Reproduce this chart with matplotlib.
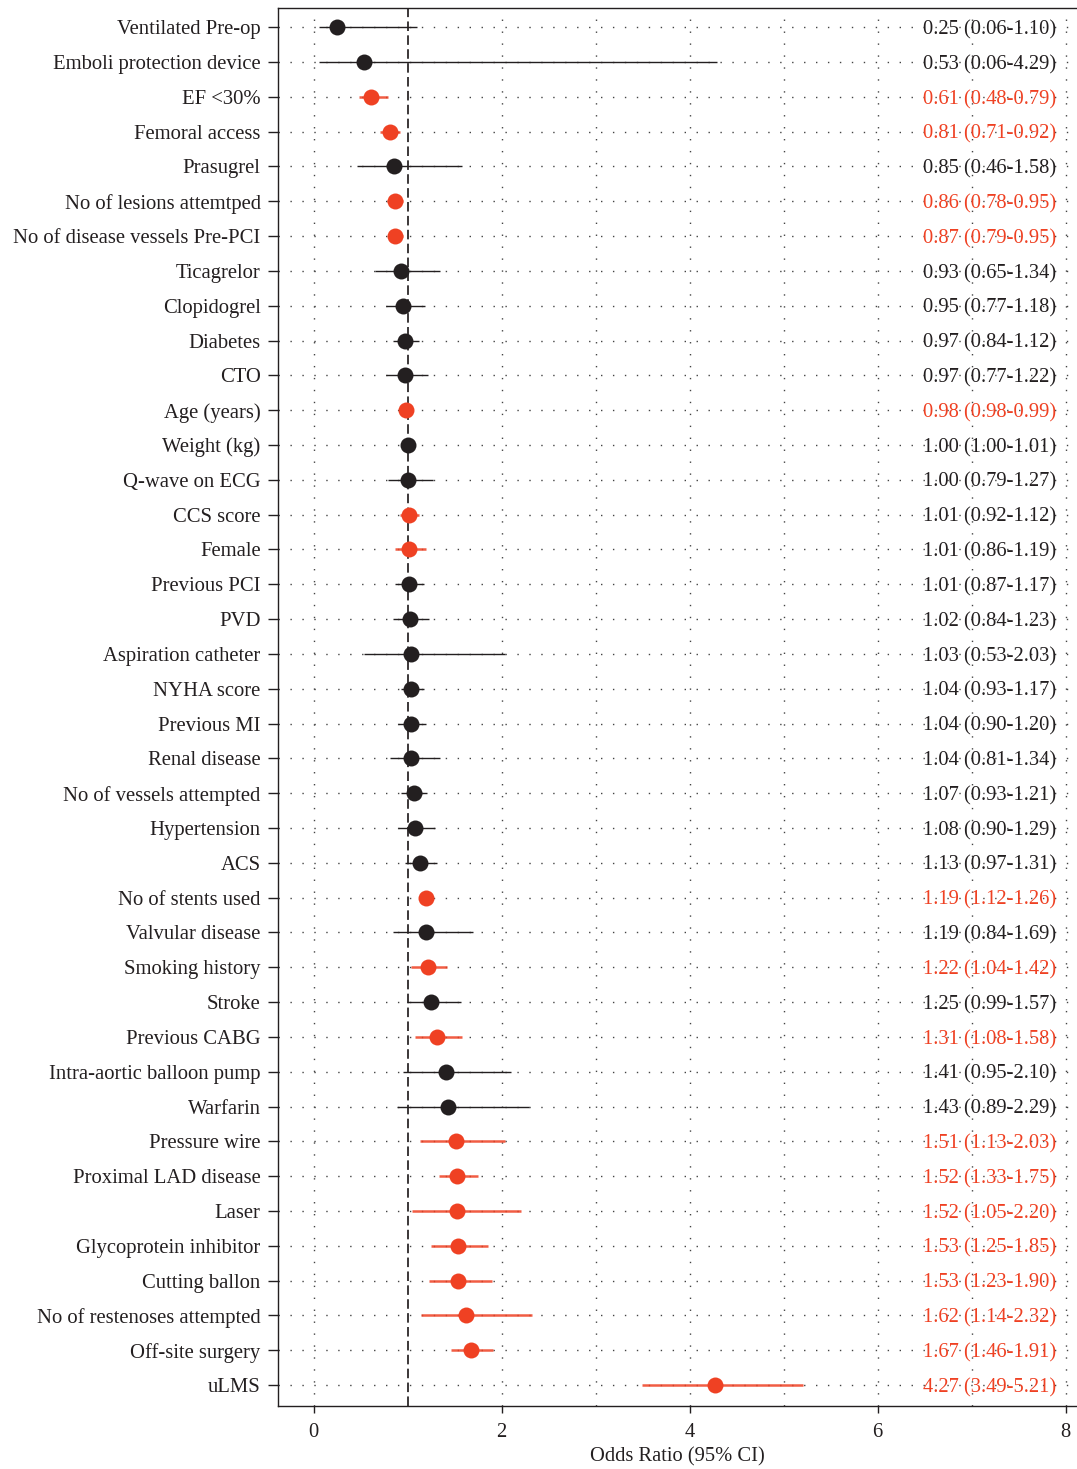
import matplotlib.pyplot as plt
import numpy as np

plt.rcParams['font.family'] = ['Liberation Serif', 'DejaVu Serif']

# odds ratios with 95% confidence intervals, top row first
labels = ['Ventilated Pre-op', 'Emboli protection device', 'EF <30%', 'Femoral access',
          'Prasugrel', 'No of lesions attemtped', 'No of disease vessels Pre-PCI',
          'Ticagrelor', 'Clopidogrel', 'Diabetes', 'CTO', 'Age (years)', 'Weight (kg)',
          'Q-wave on ECG', 'CCS score', 'Female', 'Previous PCI', 'PVD',
          'Aspiration catheter', 'NYHA score', 'Previous MI', 'Renal disease',
          'No of vessels attempted', 'Hypertension', 'ACS', 'No of stents used',
          'Valvular disease', 'Smoking history', 'Stroke', 'Previous CABG',
          'Intra-aortic balloon pump', 'Warfarin', 'Pressure wire', 'Proximal LAD disease',
          'Laser', 'Glycoprotein inhibitor', 'Cutting ballon', 'No of restenoses attempted',
          'Off-site surgery', 'uLMS']
odds = [0.25, 0.53, 0.61, 0.81, 0.85, 0.86, 0.87, 0.93, 0.95, 0.97, 0.97, 0.98, 1.00,
        1.00, 1.01, 1.01, 1.01, 1.02, 1.03, 1.04, 1.04, 1.04, 1.07, 1.08, 1.13, 1.19,
        1.19, 1.22, 1.25, 1.31, 1.41, 1.43, 1.51, 1.52, 1.52, 1.53, 1.53, 1.62, 1.67, 4.27]
lower = [0.06, 0.06, 0.48, 0.71, 0.46, 0.78, 0.79, 0.65, 0.77, 0.84, 0.77, 0.98, 1.00,
         0.79, 0.92, 0.86, 0.87, 0.84, 0.53, 0.93, 0.90, 0.81, 0.93, 0.90, 0.97, 1.12,
         0.84, 1.04, 0.99, 1.08, 0.95, 0.89, 1.13, 1.33, 1.05, 1.25, 1.23, 1.14, 1.46, 3.49]
upper = [1.10, 4.29, 0.79, 0.92, 1.58, 0.95, 0.95, 1.34, 1.18, 1.12, 1.22, 0.99, 1.01,
         1.27, 1.12, 1.19, 1.17, 1.23, 2.03, 1.17, 1.20, 1.34, 1.21, 1.29, 1.31, 1.26,
         1.69, 1.42, 1.57, 1.58, 2.10, 2.29, 2.03, 1.75, 2.20, 1.85, 1.90, 2.32, 1.91, 5.21]
# 1 = highlighted (red), 0 = plain
mark_sig = [0, 0, 1, 1, 0, 1, 1, 0, 0, 0, 0, 1, 0, 0, 1, 1, 0, 0, 0, 0, 0, 0, 0, 0, 0, 1,
            0, 1, 0, 1, 0, 0, 1, 1, 1, 1, 1, 1, 1, 1]
text_sig = [0, 0, 1, 1, 0, 1, 1, 0, 0, 0, 0, 1, 0, 0, 0, 0, 0, 0, 0, 0, 0, 0, 0, 0, 0, 1,
            0, 1, 0, 1, 0, 0, 1, 1, 1, 1, 1, 1, 1, 1]

dark = '#231f20'
red = '#ef4123'

fig = plt.figure(figsize=(10.77, 14.69), dpi=100)
ax = fig.add_axes([0.2581, 0.0429, 0.7419, 0.9516])

y = np.arange(len(labels))
ax.set_xlim(-0.38, 8.12)
ax.set_ylim(39.6, -0.55)

# dotted grid
for xv in range(0, 9):
    if xv == 1:
        continue
    ax.axvline(xv, color='#444444', lw=1.0, ls=(0, (1, 7.6)), zorder=0)
for yv in y:
    ax.axhline(yv, color='#444444', lw=1.0, ls=(0, (1, 7.6)), zorder=0)
ax.axvline(1, color=dark, lw=1.25, ls=(0, (5.5, 2.5)), zorder=1)

for i in y:
    if mark_sig[i]:
        ax.plot([lower[i], upper[i]], [i, i], color=red, lw=1.8, alpha=0.85, zorder=2,
                solid_capstyle='butt')
        ax.plot(odds[i], i, 'o', color=red, ms=11.5, mec='none', zorder=3)
    else:
        ax.plot([lower[i], upper[i]], [i, i], color=dark, lw=1.0, zorder=2,
                solid_capstyle='butt')
        ax.plot(odds[i], i, 'o', color=dark, ms=11.5, mec='none', zorder=3)
    txt = '%.2f (%.2f-%.2f)' % (odds[i], lower[i], upper[i])
    ax.text(7.9, i, txt, ha='right', va='center_baseline', fontsize=14.8,
            color=red if text_sig[i] else dark, zorder=4)

ax.set_yticks(y)
ax.set_yticklabels(labels, fontsize=14.9, color=dark)
ax.set_xticks([0, 2, 4, 6, 8])
ax.set_xticklabels(['0', '2', '4', '6', '8'], fontsize=14.8, color=dark)
ax.tick_params(axis='y', length=7, width=1.0, pad=5.5, color=dark)
ax.tick_params(axis='x', length=5, width=1.0, pad=7, color=dark)
ax.set_xlabel('Odds Ratio (95% CI)', fontsize=14.8, color=dark, labelpad=4)

for s in ['left', 'top', 'bottom']:
    ax.spines[s].set_linewidth(1.0)
    ax.spines[s].set_color(dark)
ax.spines['right'].set_visible(False)

fig.savefig('out.png', dpi=100)
